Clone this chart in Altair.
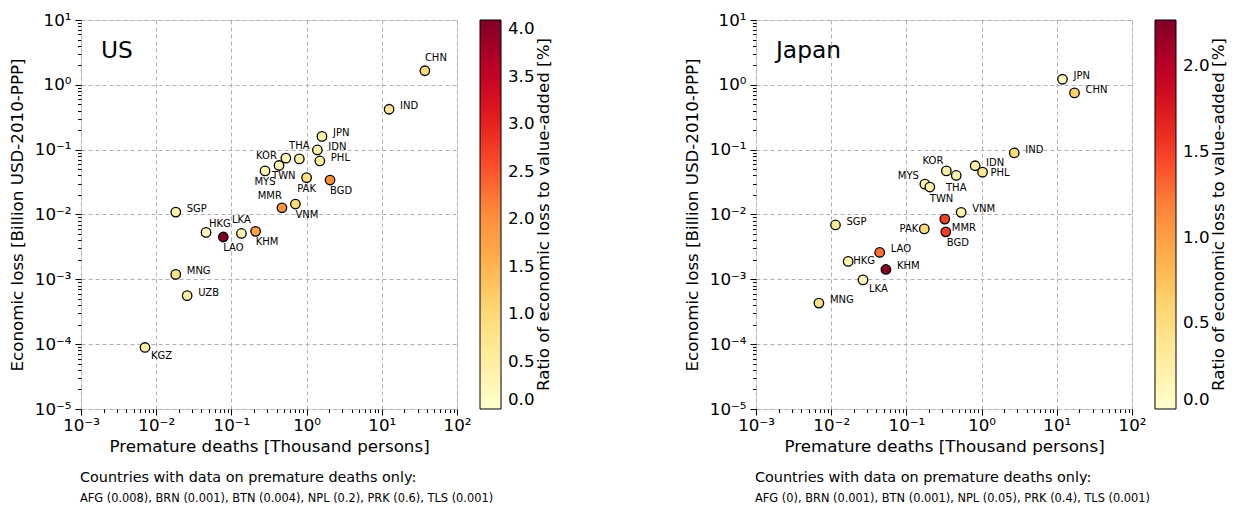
import altair as alt
import pandas as pd

# ---------------- data ----------------
countries_us = ["CHN", "IND", "JPN", "IDN", "THA", "PHL", "KOR", "TWN", "MYS", "PAK", "BGD",
                "MMR", "VNM", "SGP", "HKG", "LAO", "LKA", "KHM", "MNG", "UZB", "KGZ"]
deaths_us = [37.4, 12.5, 1.6, 1.39, 0.80, 1.5, 0.53, 0.43, 0.28, 1.0, 2.05,
             0.47, 0.71, 0.0182, 0.046, 0.078, 0.136, 0.21, 0.0182, 0.0258, 0.0071]
loss_us = [1.65, 0.42, 0.16, 0.099, 0.072, 0.067, 0.074, 0.057, 0.047, 0.037, 0.034,
           0.0127, 0.0145, 0.0109, 0.0053, 0.0045, 0.0051, 0.0055, 0.00119, 0.00056, 0.0000889]
ratio_us = [1.0, 0.7, 0.45, 0.45, 0.4, 0.55, 0.3, 0.3, 0.35, 0.9, 2.05,
            1.95, 1.0, 0.33, 0.25, 4.1, 0.33, 1.75, 0.8, 0.5, 0.5]
cmax_us = 4.1

countries_jp = ["JPN", "CHN", "IND", "IDN", "PHL", "KOR", "THA", "MYS", "TWN", "VNM", "MMR",
                "PAK", "BGD", "SGP", "LAO", "HKG", "KHM", "LKA", "MNG"]
deaths_jp = [11.9, 17.2, 2.72, 0.82, 1.03, 0.34, 0.46, 0.176, 0.205, 0.535, 0.324,
             0.173, 0.334, 0.0114, 0.0442, 0.0168, 0.0534, 0.0265, 0.00686]
loss_jp = [1.22, 0.75, 0.089, 0.0565, 0.045, 0.047, 0.040, 0.0294, 0.0265, 0.0108, 0.0085,
           0.0060, 0.0054, 0.0069, 0.0026, 0.00189, 0.00142, 0.00098, 0.00043]
ratio_jp = [0.11, 0.63, 0.55, 0.23, 0.34, 0.23, 0.18, 0.18, 0.22, 0.22, 1.5,
            0.55, 1.52, 0.35, 1.27, 0.18, 2.25, 0.18, 0.45]
cmax_jp = 2.27

legend_values_us = [0.0, 0.5, 1.0, 1.5, 2.0, 2.5, 3.0, 3.5, 4.0]
legend_values_jp = [0.0, 0.5, 1.0, 1.5, 2.0]

colorbar_title = "Ratio of economic loss to value-added [%]"
footer_title = "Countries with data on premature deaths only:"
footer_us = "AFG (0.008), BRN (0.001), BTN (0.004), NPL (0.2), PRK (0.6), TLS (0.001)"
footer_jp = "AFG (0), BRN (0.001), BTN (0.001), NPL (0.05), PRK (0.4), TLS (0.001)"

x_major = [1e-3, 1e-2, 1e-1, 1.0, 10.0, 100.0]
y_major = [1e-5, 1e-4, 1e-3, 1e-2, 1e-1, 1.0, 10.0]
x_minor = [m * 10.0 ** e for e in range(-3, 2) for m in range(2, 10)]
y_minor = [m * 10.0 ** e for e in range(-5, 1) for m in range(2, 10)]

# matplotlib YlOrRd colour stops
ylorrd = ["#ffffcc", "#ffeda0", "#fed976", "#feb24c", "#fd8d3c",
          "#fc4e2a", "#e31a1c", "#bd0026", "#800026"]

# label placement (style, not data): (align, dx, dy, countries)
groups_us = [
    ("left", 11, -3, ["IND", "JPN", "IDN", "PHL", "SGP", "MNG", "UZB"]),
    ("left", 0, -13, ["CHN"]),
    ("center", 0, -13, ["THA", "LKA"]),
    ("right", -9, -2, ["KOR"]),
    ("left", -7, 11, ["TWN"]),
    ("center", 0, 11, ["MYS", "PAK"]),
    ("left", 0, 11, ["BGD", "VNM", "LAO", "KHM"]),
    ("right", 0, -12, ["MMR"]),
    ("left", 3, -8, ["HKG"]),
    ("left", 6, 9, ["KGZ"]),
]
groups_jp = [
    ("left", 11, -3, ["JPN", "CHN", "IND", "IDN", "VNM", "SGP", "LAO", "KHM", "MNG"]),
    ("left", 8, 1, ["PHL"]),
    ("right", -3, -10, ["KOR"]),
    ("center", 0, 13, ["THA"]),
    ("right", -6, -8, ["MYS"]),
    ("left", 0, 12, ["TWN"]),
    ("left", 7, 9, ["MMR"]),
    ("right", -6, 0, ["PAK"]),
    ("left", 1, 11, ["BGD"]),
    ("left", 5, 0, ["HKG"]),
    ("left", 6, 9, ["LKA"]),
]

FONT = "DejaVu Sans"
W, H = 376, 389
FS = 16.7

SUP = {-5: "⁻⁵", -4: "⁻⁴", -3: "⁻³", -2: "⁻²", -1: "⁻¹", 0: "⁰", 1: "¹", 2: "²"}
E = "round(log(datum.value)/LN10)"
pow_expr = " : ".join(f"{E} == {k} ? '10{v}'" for k, v in SUP.items()) + " : ''"


def panel(name, countries, deaths, loss, ratio, cmax, lvals, groups, footer, foot_offset,
          cb_title_x):
    df = pd.DataFrame({"country": countries, "deaths": deaths, "loss": loss, "ratio": ratio})
    xs = alt.Scale(type="log", domain=[1e-3, 1e2], nice=False)
    ys = alt.Scale(type="log", domain=[1e-5, 1e1], nice=False)
    base = alt.Chart(df)

    common = dict(labelExpr=pow_expr, grid=True, gridDash=[4, 3], gridColor="#b0b0b0",
                  gridWidth=1, ticks=True, tickSize=6, tickColor="black", tickWidth=1,
                  domain=False, labelFlush=False, labelFont=FONT, labelFontSize=FS,
                  labelColor="black", titleFont=FONT, titleFontSize=FS,
                  titleFontWeight="normal", titleColor="black")
    ax_x = alt.Axis(orient="bottom", values=x_major, labelPadding=2,
                    title="Premature deaths [Thousand persons]", titlePadding=5, **common)
    ax_y = alt.Axis(orient="left", values=y_major, labelPadding=4,
                    title="Economic loss [Billion USD-2010-PPP]", titlePadding=8, **common)

    stops = [cmax * i / 8 for i in range(9)]
    points = base.mark_circle(size=90, stroke="black", strokeWidth=1.3, opacity=1).encode(
        x=alt.X("deaths:Q", scale=xs, axis=ax_x),
        y=alt.Y("loss:Q", scale=ys, axis=ax_y),
        color=alt.Color(
            "ratio:Q",
            scale=alt.Scale(domain=stops, range=ylorrd, interpolate="rgb"),
            legend=alt.Legend(
                title=None, orient="right", offset=23,
                direction="vertical", gradientLength=H, gradientThickness=21,
                gradientStrokeColor="black", gradientStrokeWidth=1, values=lvals, format=".1f",
                labelFont=FONT, labelFontSize=FS, labelColor="black", labelOffset=7,
                labelOverlap=False),
        ),
    )

    minor = base.mark_point(opacity=0).encode(
        x=alt.X("deaths:Q", scale=xs,
                axis=alt.Axis(orient="bottom", values=x_minor, labels=False, domain=False,
                              grid=False, ticks=True, tickSize=3.5, tickColor="black",
                              tickWidth=1, title=None)),
        y=alt.Y("loss:Q", scale=ys,
                axis=alt.Axis(orient="left", values=y_minor, labels=False, domain=False,
                              grid=False, ticks=True, tickSize=3.5, tickColor="black",
                              tickWidth=1, title=None)),
    )

    layers = [points, minor]

    for align, dx, dy, names in groups:
        layers.append(
            base.transform_filter(alt.FieldOneOfPredicate(field="country", oneOf=names))
            .mark_text(align=align, dx=dx, dy=dy, baseline="middle", font=FONT, fontSize=10,
                       color="black")
            .encode(x=alt.X("deaths:Q", scale=xs, axis=None),
                    y=alt.Y("loss:Q", scale=ys, axis=None),
                    text="country:N")
        )

    layers.append(
        alt.Chart(pd.DataFrame({"t": [name]})).mark_text(
            align="left", baseline="alphabetic", font=FONT, fontSize=23.3, color="black"
        ).encode(x=alt.value(20), y=alt.value(38), text="t:N")
    )
    layers.append(
        alt.Chart(pd.DataFrame({"t": [colorbar_title]})).mark_text(
            align="center", baseline="middle", angle=270, font=FONT, fontSize=FS, color="black"
        ).encode(x=alt.value(W + cb_title_x), y=alt.value(H / 2), text="t:N")
    )

    return alt.layer(*layers).resolve_scale(x="shared", y="shared").resolve_axis(
        x="independent", y="independent"
    ).properties(
        width=W, height=H,
        title=alt.TitleParams(
            text=footer_title, subtitle=footer, orient="bottom", anchor="start", frame="group",
            offset=foot_offset, dx=-1, font=FONT, fontSize=14.4, fontWeight="normal",
            color="black", subtitleFont=FONT, subtitleFontSize=11.4, subtitleColor="black",
            subtitlePadding=7),
    )


left = panel("US", countries_us, deaths_us, loss_us, ratio_us, cmax_us, legend_values_us,
             groups_us, footer_us, 16, 87)
right = panel("Japan", countries_jp, deaths_jp, loss_jp, ratio_jp, cmax_jp, legend_values_jp,
              groups_jp, footer_jp, 16, 87)

chart = alt.hconcat(left, right, spacing=129).resolve_scale(color="independent").properties(
    padding={"left": 0, "top": 3, "right": 0, "bottom": 0}
).configure_view(stroke="black", strokeWidth=1).configure(font=FONT)

chart.save("out.html", embed_options={"renderer": "svg", "actions": False})
